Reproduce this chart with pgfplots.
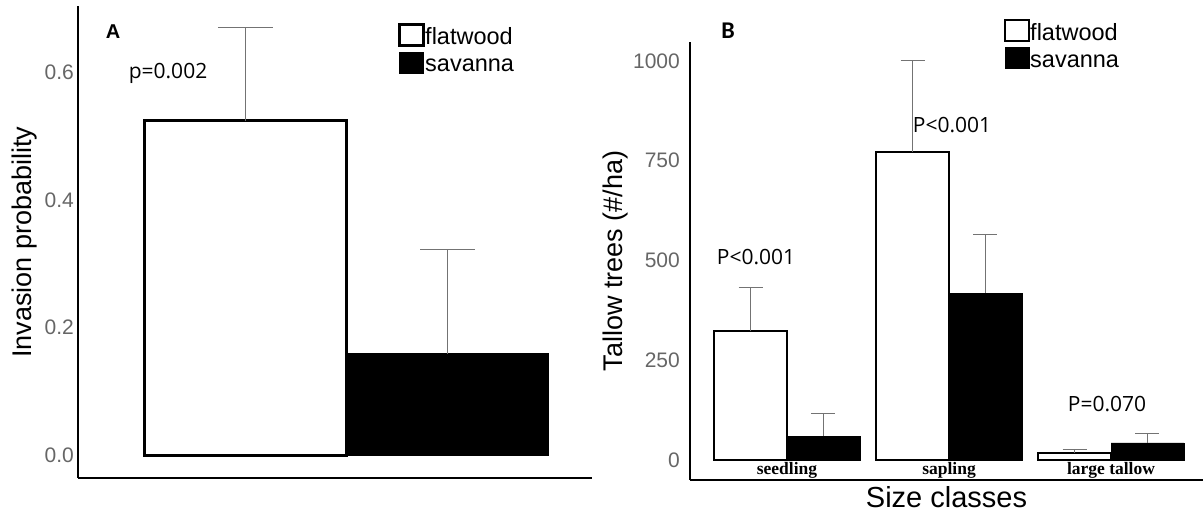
\documentclass[border=0pt]{standalone}
\usepackage{pgfplots}
\pgfplotsset{compat=1.18}
\usepackage{fontspec}
\setmainfont{Liberation Sans}
\newfontfamily\opensans{Open Sans}
\newfontfamily\carlito{Carlito}
\newfontfamily\timesf{Liberation Serif}
\definecolor{tickgray}{gray}{0.4}
\definecolor{errgray}{gray}{0.45}
\pgfplotsset{
 panel/.style={
   scale only axis, clip=false,
   axis x line*=bottom, axis y line*=left,
   axis line style={line width=2.2bp, black, -},
   major tick length=0pt,
   tick style={draw=none},
   yticklabel style={font=\fontsize{21bp}{24bp}\selectfont, text=tickgray, anchor=east, inner sep=0pt},
   ylabel style={font=\fontsize{27bp}{30bp}\selectfont, anchor=center},
   legend style={draw=none, fill=none, inner sep=0pt, anchor=north west, row sep=2bp, column sep=0bp,
     font=\fontsize{23.5bp}{25bp}\selectfont, nodes={inner sep=0pt, text height=17bp, text depth=5bp}},
   legend cell align=left,
 },
 boxlegend/.style={legend image code/.code={\draw[##1] (0bp,-7bp) rectangle (24bp,14bp);}},
}
\begin{document}
\begin{tikzpicture}
\useasboundingbox (0,0) rectangle (1203bp,514bp);
% Panel A
\begin{axis}[panel, at={(78bp,36bp)}, anchor=south west, width=514bp, height=472bp,
  xmin=-0.829, xmax=1.715, ymin=-0.036, ymax=0.704,
  xtick=\empty, ytick={0,0.2,0.4,0.6}, yticklabels={0.0,0.2,0.4,0.6},
  yticklabel style={xshift=-4bp},
  ylabel={Invasion probability}, ylabel style={at={(axis description cs:-0.1031,0.5)}},
  legend style={at={(0.6226,0.964)}}]
\addplot[ybar, bar width=1, bar shift=0pt, fill=white, draw=black, line width=3bp, boxlegend,
  error bars/.cd, y dir=plus, y explicit,
  error bar style={line width=1bp, errgray},
  error mark options={errgray, line width=1bp, mark size=27.5bp, rotate=90}]
  coordinates {(0,0.524) +- (0,0.146)};
\addlegendentry{flatwood}
\addplot[ybar, bar width=1, bar shift=0pt, fill=black, draw=black, line width=0.5bp, boxlegend,
  error bars/.cd, y dir=plus, y explicit,
  error bar style={line width=1bp, errgray},
  error mark options={errgray, line width=1bp, mark size=27.5bp, rotate=90}]
  coordinates {(1,0.159) +- (0,0.163)};
\addlegendentry{savanna}
\end{axis}
% Panel B
\begin{axis}[panel, at={(690bp,34bp)}, anchor=south west, width=513bp, height=438bp,
  xmin=-0.599, xmax=2.568, ymin=-50.1, ymax=1047.6,
  xtick={0,1,2}, xticklabels={seedling,sapling,large tallow},
  xticklabel style={font=\timesf\bfseries\fontsize{17.5bp}{20bp}\selectfont, anchor=base, yshift=5bp},
  ytick={0,250,500,750,1000}, yticklabels={0,250,500,750,1000},
  yticklabel style={xshift=-10bp},
  xlabel={Size classes}, xlabel style={font=\fontsize{29bp}{31bp}\selectfont, at={(axis description cs:0.5,0)}, anchor=center, yshift=-17bp},
  ylabel={Tallow trees (\#/ha)}, ylabel style={at={(axis description cs:-0.146,0.5)}},
  legend style={at={(0.6121,1.0526)}}]
\addplot[ybar, bar width=0.45, bar shift=0pt, fill=white, draw=black, line width=2bp, boxlegend,
  error bars/.cd, y dir=plus, y explicit,
  error bar style={line width=1bp, errgray},
  error mark options={errgray, line width=1bp, mark size=12bp, rotate=90}]
  coordinates {(-0.225,323) +- (0,110) (0.775,773) +- (0,227) (1.775,18) +- (0,9)};
\addlegendentry{flatwood}
\addplot[ybar, bar width=0.45, bar shift=0pt, fill=black, draw=black, line width=0.5bp, boxlegend,
  error bars/.cd, y dir=plus, y explicit,
  error bar style={line width=1bp, errgray},
  error mark options={errgray, line width=1bp, mark size=12bp, rotate=90}]
  coordinates {(0.225,60) +- (0,57) (1.225,418) +- (0,146) (2.225,43) +- (0,24)};
\addlegendentry{savanna}
\end{axis}
\node[font=\bfseries\fontsize{20bp}{22bp}\selectfont, anchor=base] at (113bp,475bp) {A};
\node[font=\opensans\fontsize{21bp}{23bp}\selectfont, anchor=base] at (168bp,435bp) {p=0.002};
\node[font=\carlito\bfseries\fontsize{24bp}{26bp}\selectfont, anchor=base] at (728bp,475bp) {B};
\node[font=\opensans\fontsize{21bp}{23bp}\selectfont, anchor=base] at (756bp,249bp) {P<0.001};
\node[font=\opensans\fontsize{21bp}{23bp}\selectfont, anchor=base] at (952bp,381bp) {P<0.001};
\node[font=\opensans\fontsize{21bp}{23bp}\selectfont, anchor=base] at (1107bp,102bp) {P=0.070};
\end{tikzpicture}
\end{document}
